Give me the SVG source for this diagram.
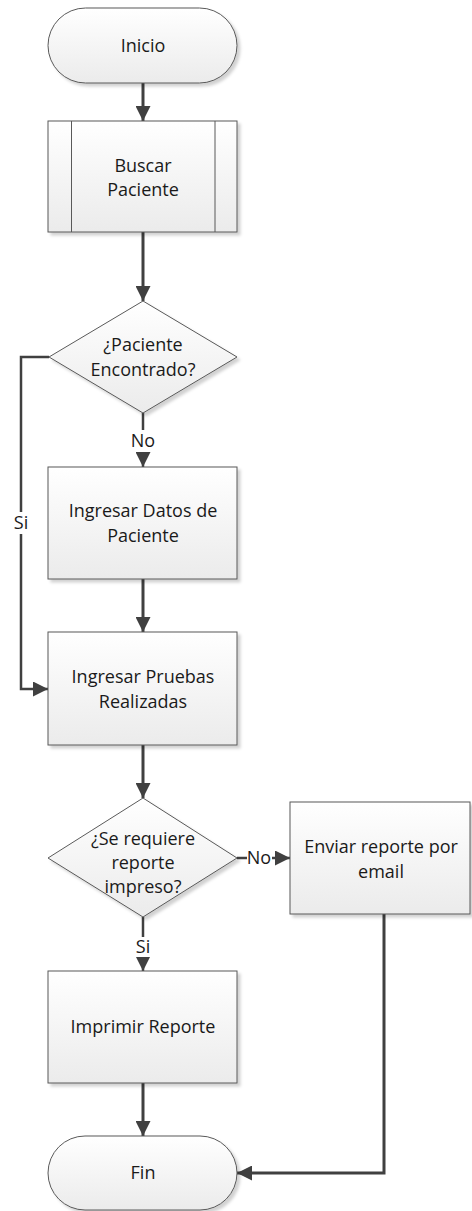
<svg xmlns="http://www.w3.org/2000/svg" width="472" height="1211" viewBox="0 0 472 1211">
<defs>
<linearGradient id="g" x1="0" y1="0" x2="0" y2="1">
<stop offset="0" stop-color="#ffffff"/>
<stop offset="1" stop-color="#ebebeb"/>
</linearGradient>
<filter id="sh" x="-10%" y="-10%" width="125%" height="125%">
<feDropShadow dx="3" dy="3" stdDeviation="1.5" flood-color="#000" flood-opacity="0.18"/>
</filter>
<marker id="ah" viewBox="0 0 10 10" refX="10" refY="5" markerWidth="5" markerHeight="5" orient="auto" markerUnits="strokeWidth">
<path d="M0,0 L10,5 L0,10 z" fill="#404040"/>
</marker>
<marker id="ahs" viewBox="0 0 10 10" refX="10" refY="5" markerWidth="6" markerHeight="6" orient="auto" markerUnits="strokeWidth">
<path d="M0,0 L10,5 L0,10 z" fill="#404040"/>
</marker>
</defs>
<style>
.s{fill:url(#g);stroke:#595959;stroke-width:1;filter:url(#sh)}
.t{font-family:"Open Sans","Liberation Sans",Arial,sans-serif;font-size:18px;fill:#1a1a1a;text-anchor:middle}
.c{fill:none;stroke:#404040;stroke-width:3}
.c2{fill:none;stroke:#404040;stroke-width:2.5}
.l{font-family:"Open Sans","Liberation Sans",Arial,sans-serif;font-size:18px;fill:#1a1a1a;text-anchor:middle}
.bg{fill:#ffffff}
</style>
<rect width="472" height="1211" fill="#ffffff"/>
<g id="connectors">
<path class="c" d="M143,83 V121" marker-end="url(#ah)"/>
<path class="c" d="M143,232 V301" marker-end="url(#ah)"/>
<path class="c2" d="M143,413 V467" marker-end="url(#ahs)"/>
<path class="c" d="M143,579 V632" marker-end="url(#ah)"/>
<path class="c2" d="M49,357 H21 V689 H48" marker-end="url(#ahs)"/>
<path class="c" d="M143,745 V798" marker-end="url(#ah)"/>
<path class="c2" d="M237,858 H290" marker-end="url(#ahs)"/>
<path class="c2" d="M143,917 V971" marker-end="url(#ahs)"/>
<path class="c" d="M143,1083 V1136" marker-end="url(#ah)"/>
<path class="c" d="M384,914 V1173 H237" marker-end="url(#ah)"/>
<rect class="bg" x="128" y="430" width="30" height="22"/>
<text class="l" x="143" y="447">No</text>
<rect class="bg" x="10" y="512" width="22" height="22"/>
<text class="l" x="21" y="529">Si</text>
<rect class="bg" x="247" y="848" width="25" height="20"/>
<text class="l" x="259" y="864">No</text>
<rect class="bg" x="133" y="937" width="20" height="20"/>
<text class="l" x="143" y="953">Si</text>
</g>
<g id="inicio">
<rect class="s" x="48" y="8" width="189" height="75" rx="37.5" ry="37.5"/>
<text class="t" x="143" y="52">Inicio</text>
</g>
<g id="buscar">
<rect class="s" x="48" y="121" width="189" height="111"/>
<line x1="71.5" y1="121" x2="71.5" y2="232" stroke="#595959" stroke-width="1"/>
<line x1="215" y1="121" x2="215" y2="232" stroke="#595959" stroke-width="1"/>
<text class="t" x="143" y="172">Buscar</text>
<text class="t" x="143" y="196">Paciente</text>
</g>
<g id="decision1">
<polygon class="s" points="143,301 237,357 143,413 49,357"/>
<text class="t" x="143" y="351">¿Paciente</text>
<text class="t" x="143" y="376">Encontrado?</text>
</g>
<g id="ingresar-datos">
<rect class="s" x="48" y="467" width="189" height="112"/>
<text class="t" x="143" y="517">Ingresar Datos de</text>
<text class="t" x="143" y="542">Paciente</text>
</g>
<g id="ingresar-pruebas">
<rect class="s" x="48" y="632" width="189" height="113"/>
<text class="t" x="143" y="683">Ingresar Pruebas</text>
<text class="t" x="143" y="708">Realizadas</text>
</g>
<g id="decision2">
<polygon class="s" points="143,798 237,858 143,917 48,858"/>
<text class="t" x="143" y="845">¿Se requiere</text>
<text class="t" x="143" y="869">reporte</text>
<text class="t" x="143" y="893">impreso?</text>
</g>
<g id="enviar">
<rect class="s" x="290" y="802" width="180" height="112"/>
<text class="t" x="381" y="853">Enviar reporte por</text>
<text class="t" x="381" y="878">email</text>
</g>
<g id="imprimir">
<rect class="s" x="48" y="971" width="189" height="112"/>
<text class="t" x="143" y="1033">Imprimir Reporte</text>
</g>
<g id="fin">
<rect class="s" x="48" y="1136" width="189" height="74" rx="37" ry="37"/>
<text class="t" x="143" y="1179">Fin</text>
</g>
</svg>
